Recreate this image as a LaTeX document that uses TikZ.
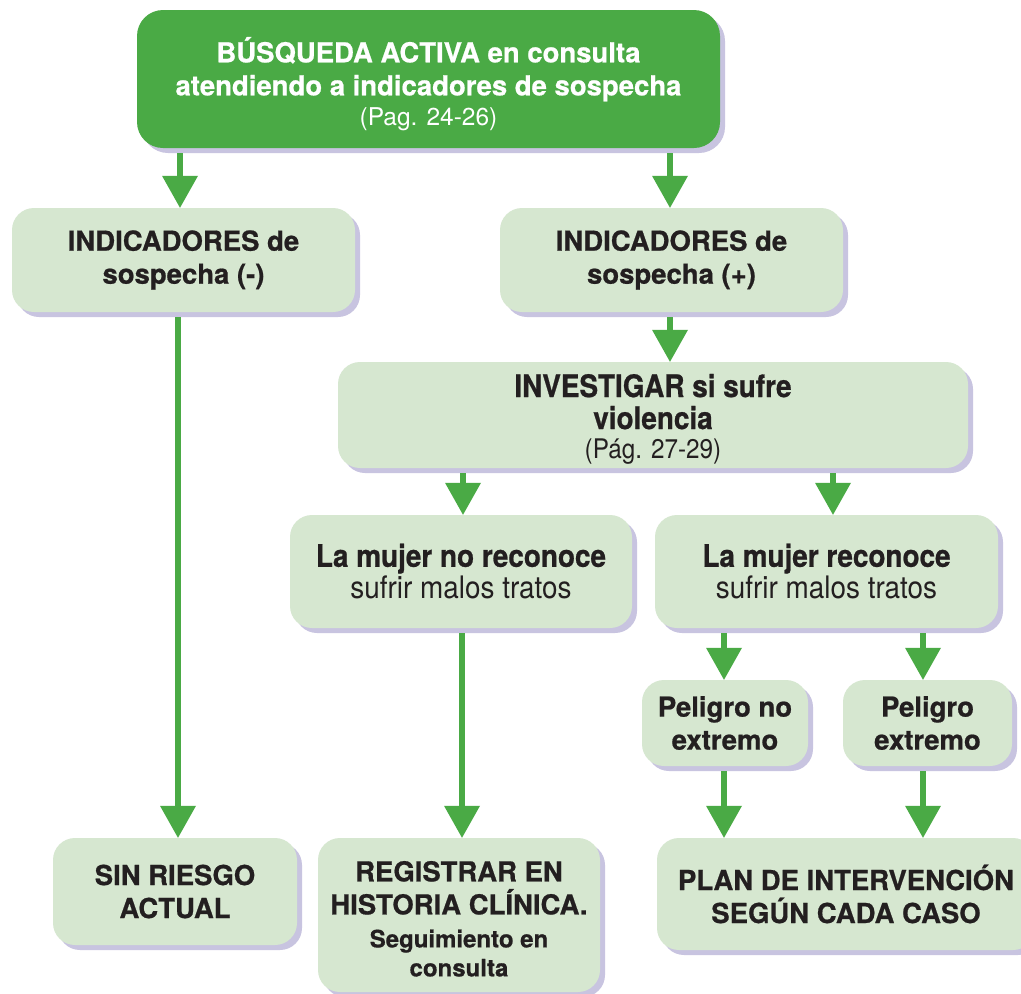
\documentclass[tikz,border=0pt]{standalone}
\usepackage{fontspec}
\setmainfont[BoldFeatures={FakeBold=0.7}]{TeX Gyre Heros}
\newfontfamily\condf[FakeStretch=0.9,BoldFeatures={FakeBold=0.7}]{TeX Gyre Heros}
\usetikzlibrary{arrows.meta,shadows}
\definecolor{fgreen}{RGB}{74,170,69}
\definecolor{lgreen}{RGB}{214,231,208}
\definecolor{shad}{RGB}{200,196,224}
\definecolor{txt}{RGB}{35,31,32}
\tikzset{
  box/.style={rounded corners=22pt, fill=lgreen, text=txt, align=center, inner sep=0pt,
    font=\bfseries\fontsize{27.5}{33}\selectfont,
    general shadow={fill=shad, shadow xshift=5pt, shadow yshift=-5pt}},
  topbox/.style={box, fill=fgreen, text=white, rounded corners=26pt},
  condbox/.style={box, font=\condf\bfseries\fontsize{31}{32}\selectfont},
  arr/.style={draw=fgreen, line width=6pt, -{Triangle[width=36pt,length=32pt,line width=0pt]}},
}
\begin{document}
\begin{tikzpicture}[x=1pt,y=-1pt]
\clip (0,0) rectangle (1021,994);
\fill[white] (0,0) rectangle (1021,994);

\node[topbox, minimum width=583pt, minimum height=138pt] (top) at (428.5,79)
  {\rule{0pt}{35pt}BÚSQUEDA ACTIVA en consulta\\atendiendo a indicadores de sospecha\\[-3pt]{\mdseries\fontsize{24.5}{30}\selectfont (Pag. 24-26)}};
\node[box, minimum width=343pt, minimum height=104pt] (neg) at (183.5,260)
  {INDICADORES de\\sospecha (-)};
\node[box, minimum width=343pt, minimum height=104pt] (pos) at (671.5,260)
  {INDICADORES de\\sospecha (+)};
\node[condbox, minimum width=630pt, minimum height=106pt] (inv) at (653,415)
  {\rule{0pt}{31pt}INVESTIGAR si sufre\\violencia\\[-3pt]{\mdseries\fontsize{27}{30}\selectfont (Pág. 27-29)}};
\node[condbox, minimum width=342pt, minimum height=113pt] (nor) at (461,571.5)
  {La mujer no reconoce\\{\mdseries sufrir malos tratos}};
\node[condbox, minimum width=343pt, minimum height=113pt] (rec) at (826.5,571.5)
  {La mujer reconoce\\{\mdseries sufrir malos tratos}};
\node[box, minimum width=166pt, minimum height=86pt] (pno) at (725,723)
  {Peligro no\\extremo};
\node[box, minimum width=169pt, minimum height=86pt] (pex) at (927.5,723)
  {Peligro\\extremo};
\node[box, minimum width=244pt, minimum height=107pt] (sin) at (175,891.5)
  {SIN RIESGO\\ACTUAL};
\node[box, minimum width=282pt, minimum height=154pt] (reg) at (459,915)
  {\rule{0pt}{28pt}REGISTRAR EN\\HISTORIA CLÍNICA.\\{\fontsize{24}{29}\selectfont Seguimiento en}\\[-4pt]{\fontsize{24}{29}\selectfont consulta}};
\node[box, minimum width=378pt, minimum height=112pt] (plan) at (846,894)
  {PLAN DE INTERVENCIÓN\\SEGÚN CADA CASO};

\coordinate (xa) at (180,0);
\coordinate (xb) at (670,0);
\coordinate (xc) at (178,0);
\coordinate (xd) at (463,0);
\coordinate (xe) at (833,0);
\coordinate (xf) at (462,0);
\coordinate (xg) at (724,0);
\coordinate (xh) at (923,0);

\draw[arr] ([yshift=-5pt]top.south -| xa) -- (neg.north -| xa);
\draw[arr] ([yshift=-5pt]top.south -| xb) -- (pos.north -| xb);
\draw[arr] ([yshift=-5pt]neg.south -| xc) -- (sin.north -| xc);
\draw[arr] ([yshift=-5pt]pos.south -| xb) -- (inv.north -| xb);
\draw[arr] ([yshift=-5pt]inv.south -| xd) -- (nor.north -| xd);
\draw[arr] ([yshift=-5pt]inv.south -| xe) -- (rec.north -| xe);
\draw[arr] ([yshift=-5pt]nor.south -| xf) -- (reg.north -| xf);
\draw[arr] ([yshift=-5pt]rec.south -| xg) -- (pno.north -| xg);
\draw[arr] ([yshift=-5pt]rec.south -| xh) -- (pex.north -| xh);
\draw[arr] ([yshift=-5pt]pno.south -| xg) -- (plan.north -| xg);
\draw[arr] ([yshift=-5pt]pex.south -| xh) -- (plan.north -| xh);
\end{tikzpicture}
\end{document}
